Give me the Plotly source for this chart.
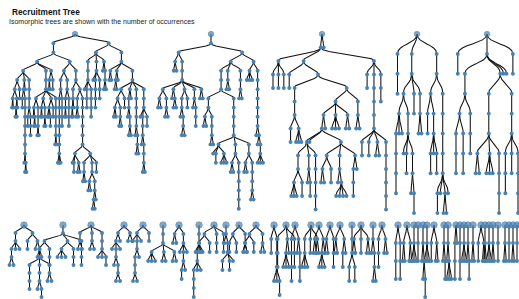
import plotly.graph_objects as go

TITLE = "Recruitment Tree"
SUBTITLE = "Isomorphic trees are shown with the number of occurrences"

# Trees written as preorder depth strings (base-36 digit = depth of node)
T1 = ("0123"
      "45678878998675678789abcdeeff6" "56789a9ab"
      "456" "7899aa89abb" "789989aa" "78999a89" "789abcc"
      "456656"
      "3"
      "456789abcdeee789a567899789a"
      "45678998" "67899789abc" "deefeff" "defggefghhghijjief"
      "12"
      "34566786789" "3455678567" "344566"
      "23" "455" "45665"
      "45" "6789989aa78" "67899abb7" "6789abbcdd" "67899abccdeff9a")
T2 = ("01" "2" "344" "345" "67887899" "67788" "67899abb78" "67889a" "677"
      "2" "3" "45"
      "6789aa9abcc" "789ab" "cddedeee" "cdeffefghij" "cdeffefghii"
      "4566" "45677" "3" "4555" "456789abbccdeee")
T3 = ("01" "2343434"
      "2" "34" "3" "456787888" "4" "5" "67"
      "89abcccbc9abbc9abcd" "8" "89abbab9abbcccc9abca"
      "7" "6777" "677" "5677"
      "2" "34" "34567898989989abcd" "345"
      "1")
T4 = ("0" "123" "12" "3" "4567855" "4566767889" "34" "3455"
      "12" "3454567667" "345678988998")
T5 = ("0" "12" "1" "234567567456"
      "2" "345" "677" "6777" "6789" "345" "678" "67" "6789"
      "2" "2" "12")
TOP_TREES = [T1, T2, T3, T4, T5]

BOTTOM_TREES = [
    "012345533123233456785678895677", "012344345234443452345", "0123312331234445",
    "0123345567732122", "01223456774212", "0123444344344", "0122123345653",
    "012345678553", "01233323123123", "0122345454", "0123231233", "01233231233",
    "0121234445", "0123123332123", "0123412234", "01233312122", "0122123332",
    "0122123", "01221232", "0123434", "012212122", "0122344", "0123122",
    "0123123", "0122122", "01222", "012", "0122334", "01222", "012122", "01223",
    "0122333", "01231", "0123", "01222", "01223", "0122", "012122", "0122",
    "01222", "0122", "012", "0122", "012", "0122", "012", "01",
]

# ---- layout configuration (positions / sizes) ----
TOP_BOX = [(12, 147), (158, 263), (273, 386), (396, 448), (456, 518)]
TOP_ROOT_X = [75, 211, 322, 417, 487]
TOP_DY = [9.2, 9.2, 13.5, 19.9, 19.9]
TOP_Y0 = 34
BOT_Y0 = 225
BOT_ROOT_X = [24, 63, 91, 124, 143, 163, 179, 199, 214, 226, 239, 256,
              274, 286, 295, 311, 319, 330, 340, 352, 361, 373, 382,
              398, 407, 414, 418, 423, 427, 434, 444, 448, 456, 460, 464, 468,
              473, 481, 485, 489, 493, 498, 505, 509, 513, 517, 521]
BOT_DX = [4.0] * 5 + [3.5] * 7 + [2.8] * 11 + [2.2] * 24
BOT_DY = [8.0] * 5 + [9.0] * 7 + [14.0] * 11 + [18.0] * 24


def parse(s):
    nodes, stack = [], []
    for ch in s:
        d = min(int(ch, 36), len(stack))
        while len(stack) > d:
            stack.pop()
        node = {'d': d, 'ch': [], 'off': 0.0}
        if stack:
            stack[-1]['ch'].append(node)
        nodes.append(node)
        stack.append(node)
    return nodes


def lay(node):
    if not node['ch']:
        return [(0.0, 0.0)]
    conts = [lay(c) for c in node['ch']]
    pos, acc = [], None
    for cc in conts:
        if acc is None:
            p = 0.0
            acc = [list(v) for v in cc]
        else:
            p = max(acc[k][1] - cc[k][0] + (1 if k == 0 else 2)
                    for k in range(min(len(acc), len(cc))))
            for k in range(len(cc)):
                if k < len(acc):
                    acc[k][0] = min(acc[k][0], p + cc[k][0])
                    acc[k][1] = max(acc[k][1], p + cc[k][1])
                else:
                    acc.append([p + cc[k][0], p + cc[k][1]])
        pos.append(p)
    mid = (pos[0] + pos[-1]) / 2
    for c, p in zip(node['ch'], pos):
        c['off'] = p - mid
    return [(0.0, 0.0)] + [(a - mid, b - mid) for a, b in acc]


def place(node, x):
    node['x'] = x
    for c in node['ch']:
        place(c, x + c['off'])


lx, ly, nx, ny, rx, ry, rs = [], [], [], [], [], [], []


def add_tree(nodes, fx, fy, rsize):
    for n in nodes:
        X, Y = fx(n['x']), fy(n['d'])
        for c in n['ch']:
            X1, Y1 = fx(c['x']), fy(c['d'])
            ym = (Y + Y1) / 2
            for i in range(9):
                t = i / 8
                a, b, cc, d = (1 - t) ** 3, 3 * (1 - t) ** 2 * t, 3 * (1 - t) * t * t, t ** 3
                lx.append(a * X + b * X + cc * X1 + d * X1)
                ly.append(a * Y + b * ym + cc * ym + d * Y1)
            lx.append(None)
            ly.append(None)
        if n['d'] == 0:
            rx.append(X); ry.append(Y); rs.append(rsize)
        else:
            nx.append(X); ny.append(Y)


def make_fx(mn, mx, x0, x1, rpx):
    def fx(v):
        if v <= 0:
            return rpx - (0 - v) / (0 - mn) * (rpx - x0) if mn < 0 else rpx
        return rpx + v / mx * (x1 - rpx)
    return fx


for s, (x0, x1), rpx, dy in zip(TOP_TREES, TOP_BOX, TOP_ROOT_X, TOP_DY):
    nodes = parse(s)
    lay(nodes[0])
    place(nodes[0], 0.0)
    xs = [n['x'] for n in nodes]
    add_tree(nodes, make_fx(min(xs), max(xs), x0, x1, rpx),
             lambda d, dy=dy: TOP_Y0 + d * dy, 5.5)

for s, rxp, dx, dy in zip(BOTTOM_TREES, BOT_ROOT_X, BOT_DX, BOT_DY):
    nodes = parse(s)
    lay(nodes[0])
    place(nodes[0], 0.0)
    add_tree(nodes, lambda v, rxp=rxp, dx=dx: rxp + v * dx,
             lambda d, dy=dy: BOT_Y0 + d * dy, 6.5)

fig = go.Figure()
fig.add_trace(go.Scatter(x=lx, y=ly, mode='lines', line=dict(color='#111111', width=1.05),
                         hoverinfo='skip'))
fig.add_trace(go.Scatter(x=nx, y=ny, mode='markers', hoverinfo='skip',
                         marker=dict(size=3.9, color='#4682b4', line=dict(width=0))))
fig.add_trace(go.Scatter(x=rx, y=ry, mode='markers', hoverinfo='skip',
                         marker=dict(size=rs, color='#4a84b8', line=dict(width=0.7, color='#2f6594'))))
fig.add_annotation(x=10, y=11.5, xref='x', yref='y', text='<b>' + TITLE + '</b>', showarrow=False,
                   xanchor='left', yanchor='middle', font=dict(family='Liberation Sans, Arial', size=8.3, color='#111'))
fig.add_annotation(x=7, y=22, xref='x', yref='y', text=SUBTITLE, showarrow=False,
                   xanchor='left', yanchor='middle', font=dict(family='Liberation Sans, Arial', size=7, color='#222'))
fig.update_layout(width=519, height=299, margin=dict(l=0, r=0, t=0, b=0),
                  paper_bgcolor='white', plot_bgcolor='white', showlegend=False,
                  xaxis=dict(range=[0, 519], visible=False, fixedrange=True),
                  yaxis=dict(range=[299, 0], visible=False, fixedrange=True))
fig.write_html("out.html", post_script="document.body.style.margin='0';",
               config={'displayModeBar': False})
